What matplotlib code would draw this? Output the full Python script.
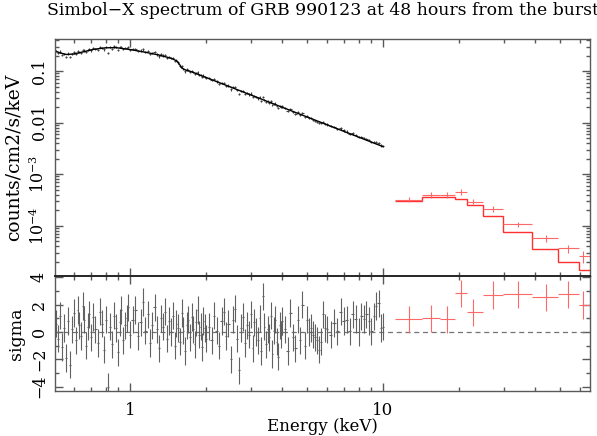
import matplotlib
matplotlib.use("Agg")
import matplotlib.pyplot as plt
import numpy as np
from matplotlib.ticker import FixedLocator, FixedFormatter, LogLocator, MultipleLocator, NullFormatter

# soft-band (black) channels: energy [keV], flux [counts/cm2/s/keV], residual [sigma]
soft_energy = [
    0.51, 0.52, 0.53, 0.54, 0.55, 0.56, 0.57, 0.58, 0.59, 0.60,
    0.61, 0.62, 0.63, 0.64, 0.65, 0.66, 0.67, 0.68, 0.69, 0.70,
    0.715, 0.73, 0.745, 0.76, 0.775, 0.79, 0.805, 0.82, 0.835, 0.85,
    0.865, 0.88, 0.895, 0.91, 0.925, 0.94, 0.955, 0.97, 0.985, 1.0,
    1.025, 1.05, 1.075, 1.1, 1.125, 1.15, 1.175, 1.2, 1.225, 1.25,
    1.275, 1.3, 1.325, 1.35, 1.375, 1.4, 1.425, 1.45, 1.475, 1.5,
    1.525, 1.55, 1.575, 1.6, 1.625, 1.65, 1.675, 1.7, 1.725, 1.75,
    1.775, 1.8, 1.825, 1.85, 1.875, 1.9, 1.925, 1.95, 1.975, 2.0,
    2.05, 2.10, 2.15, 2.20, 2.25, 2.30, 2.35, 2.40, 2.45, 2.50,
    2.55, 2.60, 2.65, 2.70, 2.75, 2.80, 2.85, 2.90, 2.95, 3.00,
    3.05, 3.10, 3.15, 3.20, 3.25, 3.30, 3.35, 3.40, 3.45, 3.50,
    3.55, 3.60, 3.65, 3.70, 3.75, 3.80, 3.85, 3.90, 3.95, 4.00,
    4.1, 4.2, 4.3, 4.4, 4.5, 4.6, 4.7, 4.8, 4.9, 5.0,
    5.1, 5.2, 5.3, 5.4, 5.5, 5.6, 5.7, 5.8, 5.9, 6.0,
    6.2, 6.4, 6.6, 6.8, 7.0, 7.2, 7.4, 7.6, 7.8, 8.0,
    8.2, 8.4, 8.6, 8.8, 9.0, 9.2, 9.4, 9.6, 9.8, 10.0,
]
soft_flux = [
    0.249, 0.227, 0.239, 0.207, 0.217, 0.190, 0.219, 0.187, 0.216, 0.230,
    0.212, 0.241, 0.233, 0.228, 0.257, 0.250, 0.232, 0.253, 0.268, 0.251,
    0.277, 0.271, 0.260, 0.295, 0.285, 0.263, 0.296, 0.227, 0.290, 0.272,
    0.302, 0.289, 0.261, 0.289, 0.298, 0.265, 0.277, 0.280, 0.289, 0.259,
    0.269, 0.272, 0.243, 0.250, 0.263, 0.233, 0.242, 0.214, 0.223, 0.233,
    0.211, 0.193, 0.210, 0.200, 0.205, 0.182, 0.189, 0.178, 0.181, 0.157,
    0.163, 0.147, 0.126, 0.123, 0.111, 0.0986, 0.107, 0.106, 0.0970, 0.102,
    0.0954, 0.0879, 0.0926, 0.0940, 0.0840, 0.0843, 0.0762, 0.0818, 0.0780, 0.0731,
    0.0729, 0.0663, 0.0692, 0.0628, 0.0568, 0.0596, 0.0591, 0.0520, 0.0523, 0.0440,
    0.0491, 0.0492, 0.0426, 0.0363, 0.0413, 0.0415, 0.0365, 0.0377, 0.0352, 0.0366,
    0.0314, 0.0334, 0.0314, 0.0295, 0.0310, 0.0267, 0.0315, 0.0276, 0.0251, 0.0259,
    0.0244, 0.0258, 0.0217, 0.0231, 0.0234, 0.0211, 0.0194, 0.0213, 0.0201, 0.0206,
    0.01907, 0.01677, 0.01844, 0.01616, 0.01484, 0.01582, 0.01409, 0.01535, 0.01274, 0.01348,
    0.01242, 0.01214, 0.01142, 0.01091, 0.01042, 0.00971, 0.00968, 0.01033, 0.00953, 0.00918,
    0.00845, 0.00829, 0.00759, 0.00769, 0.00703, 0.00669, 0.00610, 0.00615, 0.00575, 0.00523,
    0.00528, 0.00499, 0.00485, 0.00453, 0.00418, 0.00423, 0.00420, 0.00408, 0.00359, 0.00348,
]
soft_resid = [
    0.6, -0.5, 1.2, -1.1, 0.3, -1.9, 0.8, -2.4, 0.2, 1.4,
    -0.6, 1.6, 0.5, -0.3, 1.9, 0.9, -1.0, 0.4, 1.3, -0.4,
    1.1, 0.2, -0.8, 1.5, 0.6, -1.3, 0.9, -4.0, 0.4, -0.9,
    1.2, 0.3, -1.5, 0.7, 1.6, -0.6, 0.5, 1.0, 1.8, -0.2,
    0.9, 1.6, -0.3, 0.7, 2.2, 0.1, 1.3, -0.8, 0.5, 1.8,
    0.2, -1.2, 1.0, 0.4, 1.5, -0.5, 0.8, 0.0, 1.2, -1.0,
    0.6, 0.3, -0.7, 1.4, 0.1, -1.4, 0.5, 0.9, -0.4, 1.1,
    0.2, -0.9, 0.7, 1.6, -0.2, 0.4, -1.1, 0.8, 0.3, -0.5,
    0.4, -0.6, 1.2, 0.1, -1.0, 0.8, 1.5, -0.3, 0.6, -2.0,
    0.9, 1.7, -0.5, -2.8, 0.3, 1.1, -0.8, 0.5, -0.2, 1.3,
    -1.2, 0.7, 0.0, -0.6, 1.0, -1.4, 2.6, 0.4, -0.9, 0.2,
    -0.4, 1.2, -1.6, 0.1, 0.9, -0.7, -1.8, 0.5, -0.2, 0.8,
    0.2, -1.4, 1.4, -0.4, -1.2, 0.9, -0.6, 2.0, -1.0, 0.9,
    0.0, 0.3, -0.2, -0.4, -0.6, -1.3, -0.7, 1.3, 0.3, 0.2,
    -0.2, 0.65, 0.05, 1.5, 0.8, 0.9, 0.05, 1.3, 0.95, 0.0,
    1.15, 0.95, 1.3, 0.8, 0.05, 1.15, 1.9, 2.1, 0.3, 0.4,
]
soft_rel_err = 0.05

# model curve for the soft band, read at a set of knots
soft_model_energy = [0.50, 0.53, 0.56, 0.60, 0.65, 0.72, 0.80, 0.88, 1.0, 1.15,
                     1.30, 1.45, 1.50, 1.525, 1.55, 1.575, 1.60, 1.65, 1.75, 2.0,
                     3.0, 4.0, 6.0, 10.0]
soft_model_flux = [0.25, 0.225, 0.21, 0.215, 0.235, 0.265, 0.283, 0.285, 0.262, 0.232,
                   0.205, 0.178, 0.165, 0.158, 0.145, 0.131, 0.115, 0.106, 0.097, 0.075,
                   0.0344, 0.0198, 0.00909, 0.00341]

# hard-band (red) bins
hard_lo = [11.15, 14.3, 16.8, 19.3, 21.5, 24.8, 29.8, 38.8, 49.2, 59.5]
hard_hi = [14.3, 16.8, 19.3, 21.5, 24.8, 29.8, 38.8, 49.2, 59.5, 66.0]
hard_center = [12.7, 15.5, 17.9, 20.3, 22.7, 27.2, 34.2, 44.1, 53.8, 61.7]
hard_flux = [3.16e-4, 3.95e-4, 3.95e-4, 4.51e-4, 2.90e-4, 2.12e-4, 1.05e-4, 5.62e-5, 3.61e-5, 2.54e-5]
hard_flux_err = [3.5e-5, 4.5e-5, 4.5e-5, 5.5e-5, 3.2e-5, 2.6e-5, 1.2e-5, 8.5e-6, 6.3e-6, 6.5e-6]
hard_model = [3.03e-4, 3.61e-4, 3.61e-4, 3.21e-4, 2.50e-4, 1.56e-4, 7.43e-5, 3.56e-5, 1.97e-5, 1.36e-5]
hard_resid = [0.93, 1.0, 0.93, 2.83, 1.44, 2.71, 2.76, 2.54, 2.76, 1.98]

plt.rcParams["font.family"] = ["DejaVu Serif"]
plt.rcParams["mathtext.fontset"] = "dejavuserif"

e = np.array(soft_energy)
f = np.array(soft_flux)
e_half = np.gradient(e) / 2
hc = np.array(hard_center)
hard_xerr = [hc - np.array(hard_lo), np.array(hard_hi) - hc]
hard_edges = hard_lo + [hard_hi[-1]]

fig = plt.figure(figsize=(5.97, 4.36), dpi=100)
ax = fig.add_axes([0.0921, 0.367, 0.8962, 0.5436])
axr = fig.add_axes([0.0921, 0.1032, 0.8962, 0.2638], sharex=ax)

frame = "0.35"
ebar = dict(fmt="none", capsize=0)

ax.errorbar(e, f, yerr=f * soft_rel_err, xerr=e_half, ecolor="0.25", elinewidth=0.8, **ebar)
ax.plot(soft_model_energy, soft_model_flux, color="black", lw=1.0)
ax.errorbar(hard_center, hard_flux, yerr=hard_flux_err, xerr=hard_xerr, ecolor="#ff6868",
            elinewidth=0.8, **ebar)
ax.stairs(hard_model, hard_edges, baseline=None, color="#ff3030", lw=1.0)

axr.axhline(0, color="0.45", lw=0.9, ls=(0, (4, 3)))
axr.errorbar(e, soft_resid, yerr=1.0, xerr=e_half, ecolor="0.38", elinewidth=0.8, **ebar)
axr.errorbar(hard_center, hard_resid, yerr=1.0, xerr=hard_xerr, ecolor="#ff6868",
             elinewidth=0.8, **ebar)

ax.set_xscale("log")
ax.set_yscale("log")
ax.set_xlim(0.505, 65.8)
ax.set_ylim(1.05e-5, 0.42)
axr.set_ylim(-4.32, 4.10)

ax.yaxis.set_major_locator(FixedLocator([1e-4, 1e-3, 1e-2, 1e-1]))
ax.yaxis.set_major_formatter(FixedFormatter([r"$10^{-4}$", r"$10^{-3}$", "0.01", "0.1"]))
ax.yaxis.set_minor_locator(LogLocator(base=10, subs=np.arange(2, 10)))
ax.yaxis.set_minor_formatter(NullFormatter())
ax.xaxis.set_major_locator(FixedLocator([1, 10]))
ax.xaxis.set_minor_locator(LogLocator(base=10, subs=np.arange(2, 10)))
ax.xaxis.set_minor_formatter(NullFormatter())
axr.xaxis.set_major_formatter(FixedFormatter(["1", "10"]))
axr.yaxis.set_major_locator(MultipleLocator(2))
axr.yaxis.set_minor_locator(MultipleLocator(1))
plt.setp(ax.get_xticklabels(), visible=False)

for a in (ax, axr):
    a.tick_params(which="both", direction="in", top=True, right=True, color=frame, width=1.0)
    a.tick_params(which="major", length=6)
    a.tick_params(which="minor", length=3)
    a.tick_params(axis="y", labelrotation=90, labelsize=11.5, pad=5)
    a.tick_params(axis="x", labelsize=12, pad=8)
    for s in a.spines.values():
        s.set_color(frame)
        s.set_linewidth(1.0)
    for lab in a.get_yticklabels():
        lab.set_verticalalignment("center")
axr.spines["top"].set_color("0.15")
axr.spines["top"].set_linewidth(1.4)

ax.set_ylabel("counts/cm2/s/keV", fontsize=13.5, labelpad=4)
axr.set_ylabel("sigma", fontsize=12.5, labelpad=4)
axr.set_xlabel("Energy (keV)", fontsize=12, labelpad=-1)
ax.set_title("Simbol\u2212X spectrum of GRB 990123 at 48 hours from the burst",
             fontsize=12.4, pad=17)
fig.align_ylabels([ax, axr])

fig.savefig("out.png", dpi=100)
